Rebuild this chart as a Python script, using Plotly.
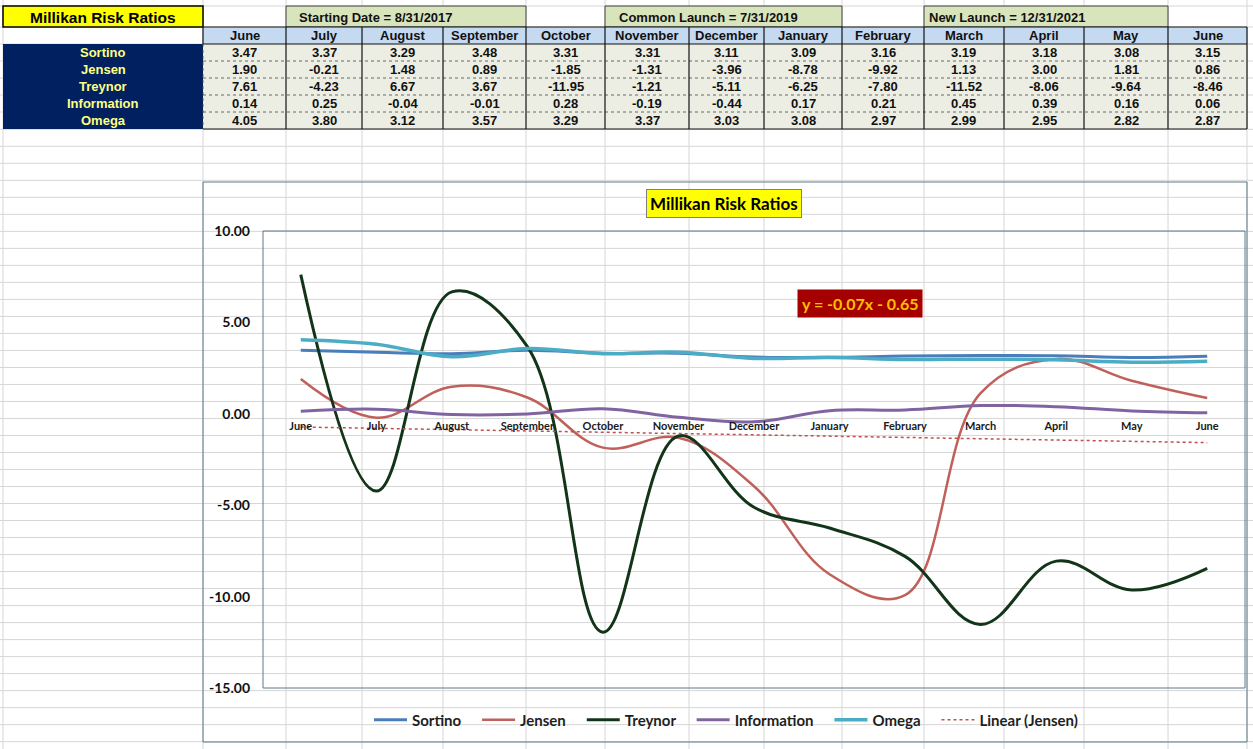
import numpy as np
import plotly.graph_objects as go

# ---------------- data ----------------
months = ["June", "July", "August", "September", "October", "November", "December",
          "January", "February", "March", "April", "May", "June"]
series_names = ["Sortino", "Jensen", "Treynor", "Information", "Omega"]
sortino = [3.47, 3.37, 3.29, 3.48, 3.31, 3.31, 3.11, 3.09, 3.16, 3.19, 3.18, 3.08, 3.15]
jensen = [1.90, -0.21, 1.48, 0.89, -1.85, -1.31, -3.96, -8.78, -9.92, 1.13, 3.00, 1.81, 0.86]
treynor = [7.61, -4.23, 6.67, 3.67, -11.95, -1.21, -5.11, -6.25, -7.80, -11.52, -8.06, -9.64, -8.46]
information = [0.14, 0.25, -0.04, -0.01, 0.28, -0.19, -0.44, 0.17, 0.21, 0.45, 0.39, 0.16, 0.06]
omega = [4.05, 3.80, 3.12, 3.57, 3.29, 3.37, 3.03, 3.08, 2.97, 2.99, 2.95, 2.82, 2.87]
date_labels = ["Starting Date = 8/31/2017", "Common Launch = 7/31/2019", "New Launch = 12/31/2021"]
table_title = "Millikan Risk Ratios"
chart_title = "Millikan Risk Ratios"
trend_name = "Linear (Jensen)"
y_ticks = [10, 5, 0, -5, -10, -15]

series_values = [sortino, jensen, treynor, information, omega]
series_colors = ["#4a7ebb", "#c0605a", "#12351a", "#8064a2", "#4bacc6"]
series_widths = [3, 2.5, 3, 3, 3.5]

# ---------------- geometry helpers ----------------
W, H = 1253, 749


def px(x):
    return x / W


def py(y):
    return 1 - y / H


shapes = []
annotations = []


def rect(x0, y0, x1, y1, fill=None, line=None, lw=1, dash=None):
    d = dict(type="rect", xref="paper", yref="paper", x0=px(x0), x1=px(x1),
             y0=py(y1), y1=py(y0), layer="below",
             fillcolor=fill if fill else "rgba(0,0,0,0)",
             line=dict(width=lw if line else 0, color=line if line else "rgba(0,0,0,0)"))
    if dash:
        d["line"]["dash"] = dash
    shapes.append(d)


def hline(x0, x1, y, color, lw=1, dash=None):
    d = dict(type="line", xref="paper", yref="paper", x0=px(x0), x1=px(x1),
             y0=py(y), y1=py(y), layer="below", line=dict(color=color, width=lw))
    if dash:
        d["line"]["dash"] = dash
    shapes.append(d)


def vline(x, y0, y1, color, lw=1, dash=None):
    d = dict(type="line", xref="paper", yref="paper", x0=px(x), x1=px(x),
             y0=py(y0), y1=py(y1), layer="below", line=dict(color=color, width=lw))
    if dash:
        d["line"]["dash"] = dash
    shapes.append(d)


def text(x, y, s, size=13, color="#111111", family="Liberation Sans", xanchor="center",
         **kw):
    annotations.append(dict(xref="paper", yref="paper", x=px(x), y=py(y), text=s,
                            showarrow=False, xanchor=xanchor, yanchor="middle",
                            font=dict(family=family, size=size, color=color, weight="bold"),
                            **kw))


# ---------------- spreadsheet grid ----------------
col_edges = [3, 203, 286, 362, 443, 526, 605, 689, 764, 842, 924, 1004, 1084, 1168, 1247]
row_edges = [6, 27, 44, 61, 78, 95, 112] + [129.3 + k * 17.01 for k in range(37)]
grid_color = "#d6d6d6"
for c in col_edges:
    vline(c, 0, H, grid_color, 1)
for r in row_edges:
    hline(0, W, r, grid_color, 1)

# ---------------- table ----------------
rect(3, 6, 203, 27, fill="#ffff00", line="#000000", lw=1.5)
text(103, 17, table_title, size=15.5, color="#000000")
date_boxes = [(286, 526), (605, 842), (924, 1168)]
date_text_x = [297, 617, 927]
for (a, b), tx, lab in zip(date_boxes, date_text_x, date_labels):
    rect(a, 6, b, 27, fill="#d8e4bc", line="#3f3f3f", lw=1)
    text(tx, 17, lab, size=13, color="#111111", xanchor="left")

rect(203, 27, 1247, 44, fill="#c5d9f1")
rect(203, 44, 1247, 129, fill="#edeee3")
rect(3, 44, 203, 129, fill="#002060")

row_centers = [52.5, 69.5, 86.5, 103.5, 120.5]
for yb in [61, 78, 95, 112]:
    hline(203, 1247, yb, "#444444", 0.8, dash="dot")
for yb in [27, 44, 129]:
    hline(203, 1247, yb, "#111111", 1.2)
vline(203, 27, 44, "#111111", 1.2)
vline(203, 44, 129, "#444444", 0.8, dash="dot")
for c in col_edges[2:]:
    vline(c, 27, 129, "#111111", 1.2)

col_centers = [(col_edges[i] + col_edges[i + 1]) / 2 for i in range(1, len(col_edges) - 1)]
for cx, m in zip(col_centers, months):
    text(cx, 35.5, m, size=13, color="#111111")
for name, vals, cy in zip(series_names, series_values, row_centers):
    text(103, cy, name, size=13, color="#ffff80")
    for cx, v in zip(col_centers, vals):
        text(cx, cy, f"{v:.2f}", size=13, color="#111111")

# ---------------- chart frame ----------------
frame_color = "#5a7a86"
rect(203, 182, 1247, 742, line=frame_color, lw=1)
PL, PR, PT, PB = 263, 1245, 231, 688
rect(PL, PT, PR, PB, line=frame_color, lw=1)

text(724, 203.5, chart_title, size=17, color="#000000", family="Lato",
     bgcolor="#ffff00", bordercolor="#7f7f7f", borderwidth=1, borderpad=3)

# trendline (linear regression of Jensen, Excel x = 1..n)
xs = np.arange(1, len(jensen) + 1)
slope, intercept = np.polyfit(xs, np.array(jensen), 1)
trend = slope * xs + intercept
sign = "-" if intercept < 0 else "+"
eq = f"y = {slope:.2f}x {sign} {abs(intercept):.2f}"
text(859.5, 303, eq, size=16, color="#ffc000", family="Lato",
     bgcolor="#a50000", borderpad=4)

# ---------------- traces ----------------
pad = "\u00a0" * 3   # extra spacing between legend entries
x = list(range(len(months)))
fig = go.Figure()
for name, vals, col, lw in zip(series_names, series_values, series_colors, series_widths):
    fig.add_trace(go.Scatter(x=x, y=vals, name=name + pad, mode="lines",
                             line=dict(color=col, width=lw, shape="spline", smoothing=1.1)))
fig.add_trace(go.Scatter(x=x, y=trend, name=trend_name, mode="lines",
                         line=dict(color="#c0504d", width=1.5, dash="dot")))

y0d, y1d = py(PB), py(PT)
ymin, ymax = -15, 10
x_axis_pos = y0d + (0 - ymin) / (ymax - ymin) * (y1d - y0d)

fig.update_layout(
    width=W, height=H,
    margin=dict(l=0, r=0, t=0, b=0, autoexpand=False),
    paper_bgcolor="#ffffff",
    plot_bgcolor="rgba(0,0,0,0)",
    shapes=shapes,
    annotations=annotations,
    showlegend=True,
    legend=dict(orientation="h", x=px(726), xanchor="center", y=py(720), yanchor="middle",
                bgcolor="rgba(0,0,0,0)",
                font=dict(family="Lato", size=15, color="#1f1f1f", weight="bold"),
                itemwidth=33),
    xaxis=dict(domain=[px(PL), px(PR)], range=[-0.5, len(months) - 0.5],
               anchor="free", position=x_axis_pos,
               tickvals=x, ticktext=months, showgrid=False, zeroline=False,
               showline=False, ticks="", ticklabelstandoff=4,
               tickfont=dict(family="Lato", size=11, color="#1a1a1a", weight="bold")),
    yaxis=dict(domain=[y0d, y1d], range=[ymin, ymax], tickvals=y_ticks,
               ticktext=[f"{v:.2f}" for v in y_ticks], showgrid=False, zeroline=False,
               showline=False, ticks="", ticklabelstandoff=12,
               tickfont=dict(family="Lato", size=14, color="#111111", weight="bold")),
)

fig.write_html("out.html", config={"displayModeBar": False})
